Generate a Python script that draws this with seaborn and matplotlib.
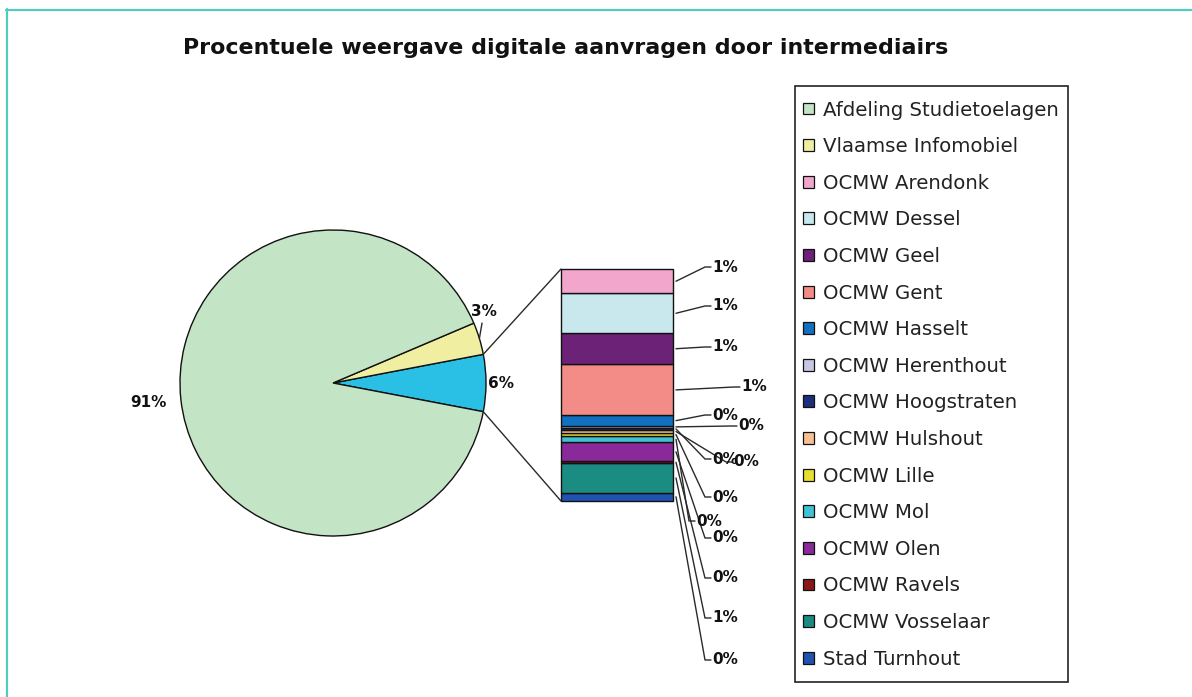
import numpy as np
import pandas as pd
import matplotlib
matplotlib.use("Agg")
import matplotlib.pyplot as plt
from matplotlib.patches import Patch, ConnectionPatch, Rectangle
from matplotlib.lines import Line2D
import seaborn as sns

# ---- data ----
title = "Procentuele weergave digitale aanvragen door intermediairs"

main_labels = ["Afdeling Studietoelagen", "Vlaamse Infomobiel"]
main_counts = [27180, 1020]
main_colors = ["#C4E4C6", "#F0EEA0"]
other_color = "#2AC0E6"

sub_labels = ["OCMW Arendonk", "OCMW Dessel", "OCMW Geel", "OCMW Gent",
              "OCMW Hasselt", "OCMW Herenthout", "OCMW Hoogstraten",
              "OCMW Hulshout", "OCMW Lille", "OCMW Mol", "OCMW Olen",
              "OCMW Ravels", "OCMW Vosselaar", "Stad Turnhout"]
sub_counts = [190, 307, 243, 396, 81, 16, 16, 24, 24, 49, 146, 16, 227, 65]
sub_colors = ["#F2A6CC", "#C9E8EE", "#6C2277", "#F38C86", "#1170C0",
              "#C6C6E6", "#1E2E7E", "#F8C090", "#E6DE30", "#40C2D2",
              "#8A2A9A", "#8A1818", "#1A8C82", "#2052B2"]

# ---- layout (pixels of a 1192x697 canvas) ----
W, H = 1192, 697
pie_box = (180, 230, 306, 306)          # left, top, width, height
bar_box = (561, 269, 112, 232)
legend_box = (795, 86, 273, 596)
bar_label_pos = [(712, 267), (712, 306), (712, 347), (741, 387), (712, 415),
                 (738, 426), (712, 459), (733, 462), (712, 497), (696, 521),
                 (712, 538), (712, 578), (712, 618), (712, 660)]

sns.set_theme(style="white")
plt.rcParams["font.family"] = ["DejaVu Sans"]

fig = plt.figure(figsize=(W / 100, H / 100), dpi=100)
fig.patch.set_facecolor("white")


def fig_rect(box):
    l, t, w, h = box
    return [l / W, 1 - (t + h) / H, w / W, h / H]


def px(x, y):
    return (x / W, 1 - y / H)


LABEL_FS = 11
INK = "#111111"
LEAD = "#2a2a2a"

# ---- pie ----
other_total = sum(sub_counts)
total = sum(main_counts) + other_total
pie_vals = [other_total, main_counts[1], main_counts[0]]
pie_cols = [other_color, main_colors[1], main_colors[0]]
start = -other_total / total * 180.0

ax_pie = fig.add_axes(fig_rect(pie_box))
wedges, _ = ax_pie.pie(pie_vals, colors=pie_cols, startangle=start,
                       counterclock=True, radius=1.0,
                       wedgeprops=dict(edgecolor="#111111", linewidth=1.0))
ax_pie.set_xlim(-1, 1)
ax_pie.set_ylim(-1, 1)
ax_pie.set_aspect("auto")
ax_pie.axis("off")

pie_label_r = [1.10, 1.09, 1.21]
pie_label_dang = [0.0, 8.6, 0.0]
for w, v, r, da in zip(wedges, pie_vals, pie_label_r, pie_label_dang):
    mid = np.deg2rad((w.theta1 + w.theta2) / 2 + da)
    ax_pie.text(r * np.cos(mid), r * np.sin(mid), f"{v / total * 100:.0f}%",
                ha="center", va="center", fontsize=LABEL_FS, fontweight="bold",
                color=INK, clip_on=False)

# short leader for the narrow slice label
w = wedges[1]
m0 = np.deg2rad((w.theta1 + w.theta2) / 2)
m1 = np.deg2rad((w.theta1 + w.theta2) / 2 + 5)
ax_pie.plot([np.cos(m0), 1.05 * np.cos(m1)], [np.sin(m0), 1.05 * np.sin(m1)],
            color=LEAD, lw=1.0, clip_on=False)

# ---- stacked bar of the "other" share ----
df = pd.DataFrame({"pos": [0] * len(sub_labels), "name": sub_labels,
                   "count": sub_counts})
ax_bar = fig.add_axes(fig_rect(bar_box))
sns.histplot(data=df, x="pos", hue="name", weights="count",
             hue_order=sub_labels, palette=dict(zip(sub_labels, sub_colors)),
             multiple="stack", discrete=True, shrink=1.0, alpha=1.0,
             edgecolor="#111111", linewidth=1.0, legend=False, ax=ax_bar)
ax_bar.set_xlim(-0.5, 0.5)
ax_bar.set_ylim(0, other_total)
ax_bar.axis("off")
for p in ax_bar.patches:
    p.set_clip_on(False)

# connectors between the pie slice and the bar
for ang, yb in [(wedges[0].theta2, other_total), (wedges[0].theta1, 0)]:
    a = np.deg2rad(ang)
    con = ConnectionPatch(xyA=(np.cos(a), np.sin(a)), coordsA=ax_pie.transData,
                          xyB=(-0.5, yb), coordsB=ax_bar.transData,
                          color=LEAD, lw=1.0)
    fig.add_artist(con)

# bar labels with leader lines, starting at the middle of each drawn segment
inv = fig.transFigure.inverted()
col_to_name = {tuple(np.round(matplotlib.colors.to_rgba(c), 3)): n
               for n, c in zip(sub_labels, sub_colors)}
mids = {}
for p in ax_bar.patches:
    if p.get_height() > 0:
        key = tuple(np.round(p.get_facecolor(), 3))
        mids[col_to_name.get(key)] = p.get_y() + p.get_height() / 2

for name, cnt, (lx, ly) in zip(sub_labels, sub_counts, bar_label_pos):
    mid = mids.get(name, 0)
    sx, sy = inv.transform(ax_bar.transData.transform((0.5, mid)))
    ex, ey = px(lx - 1, ly)
    kx, _ = px(lx - 7, ly)
    fig.add_artist(Line2D([sx + 3 / W, kx, ex], [sy, ey, ey], color=LEAD, lw=1.0))
    fig.text(lx / W, ey, f"{cnt / total * 100:.0f}%", ha="left", va="center",
             fontsize=LABEL_FS, fontweight="bold", color=INK)

# ---- legend (entries + separate square frame) ----
leg_labels = main_labels + sub_labels
leg_colors = main_colors + sub_colors
handles = [Patch(facecolor=c, edgecolor="#111111", linewidth=0.9) for c in leg_colors]
leg = fig.legend(handles, leg_labels, loc="upper left",
                 bbox_to_anchor=px(803, 100.5), borderaxespad=0,
                 frameon=False, fontsize=14.2,
                 labelspacing=0.893, handlelength=0.55, handleheight=0.55,
                 handletextpad=0.45, borderpad=0.0)
for t in leg.get_texts():
    t.set_color("#222222")
fig.add_artist(Rectangle(fig_rect(legend_box)[:2], legend_box[2] / W,
                         legend_box[3] / H, transform=fig.transFigure,
                         fill=False, edgecolor="#222222", linewidth=1.2))

# ---- title ----
fig.text(566 / W, 1 - 48 / H, title, ha="center", va="center",
         fontsize=15.9, fontweight="bold", color=INK)

# ---- page frame ----
teal = "#52CCBE"
fig.add_artist(Line2D([6 / W, 1.0], [1 - 9.5 / H, 1 - 9.5 / H], color=teal, lw=1.6))
fig.add_artist(Line2D([6.5 / W, 6.5 / W], [0, 1 - 9 / H], color=teal, lw=1.6))

fig.savefig("out.png", dpi=100, facecolor="white")
